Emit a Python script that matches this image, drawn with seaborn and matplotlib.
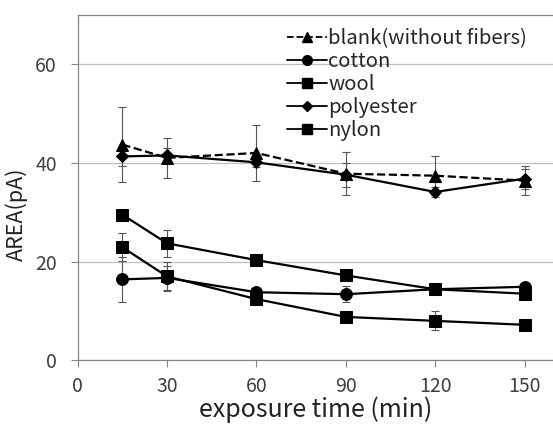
import numpy as np
import pandas as pd
import matplotlib
matplotlib.use('Agg')
import matplotlib.pyplot as plt
import seaborn as sns
from matplotlib.lines import Line2D

# exposure time (min)
times = [15, 30, 60, 90, 120, 150]

blank = [43.7, 41.0, 42.0, 37.8, 37.4, 36.4]
blank_err = [7.6, 4.1, 5.7, 4.3, 3.9, 3.0]
cotton = [16.4, 16.7, 13.8, 13.4, 14.4, 14.9]
cotton_err = [4.6, 2.5, 0.8, 1.6, 0.8, 0.6]
wool = [29.5, 23.7, 20.3, 17.2, 14.4, 13.5]
wool_err = [0.8, 2.7, 0.9, 0.8, 0.6, 0.6]
polyester = [41.3, 41.5, 40.1, 37.6, 34.1, 36.8]
polyester_err = [2.0, 1.5, 1.0, 2.4, 1.0, 2.0]
nylon = [22.9, 17.0, 12.4, 8.8, 8.0, 7.2]
nylon_err = [2.8, 2.9, 0.6, 0.8, 1.9, 0.6]

labels = ['blank(without fibers)', 'cotton', 'wool', 'polyester', 'nylon']

sns.set_style('white')
plt.rcParams['font.family'] = ['Noto Sans CJK JP', 'DejaVu Sans']

fig = plt.figure(figsize=(5.53, 4.28), dpi=100)
ax = fig.add_axes([0.1405, 0.158, 0.862, 0.8077])

series = [
    (blank, blank_err, '^', '--', 9),
    (cotton, cotton_err, 'o', '-', 8.5),
    (wool, wool_err, 's', '-', 9),
    (polyester, polyester_err, 'D', '-', 6.5),
    (nylon, nylon_err, 's', '-', 9),
]

for vals, err, mk, ls, ms in series:
    ax.errorbar(times, vals, yerr=err, fmt='none', ecolor='#555555',
                elinewidth=0.8, capsize=3, capthick=0.8, zorder=2)

for (vals, err, mk, ls, ms), lab in zip(series, labels):
    df = pd.DataFrame({'time': times, 'area': vals})
    sns.lineplot(data=df, x='time', y='area', ax=ax, color='black',
                 linestyle=ls, linewidth=1.6, marker=mk, markersize=ms,
                 markeredgecolor='black', markerfacecolor='black', zorder=3)

ax.set_xlim(0, 160)
ax.set_ylim(0, 70)
ax.set_xticks([0, 30, 60, 90, 120, 150])
ax.set_yticks([0, 20, 40, 60])
ax.yaxis.grid(True, color='#bfbfbf', linewidth=0.9)
ax.set_axisbelow(True)
for s in ax.spines.values():
    s.set_color('#868686')
    s.set_linewidth(0.9)
ax.spines['right'].set_visible(False)
ax.tick_params(axis='both', direction='out', length=5, width=0.8, color='#868686',
               labelsize=14, labelcolor='#404040', left=True, bottom=True)
ax.tick_params(axis='x', pad=6)
ax.tick_params(axis='y', pad=10)

ax.set_xlabel('exposure time (min)', fontsize=18, color='#222222', labelpad=0)
ax.set_ylabel('AREA(pA)', fontsize=15.5, color='#222222')
ax.yaxis.set_label_coords(-0.104, 0.423)

handles = [
    Line2D([], [], color='black', linestyle='--', linewidth=1.3, marker='^', markersize=7),
    Line2D([], [], color='black', linestyle='-', linewidth=1.3, marker='o', markersize=7),
    Line2D([], [], color='black', linestyle='-', linewidth=1.3, marker='s', markersize=7),
    Line2D([], [], color='black', linestyle='-', linewidth=1.3, marker='D', markersize=5),
    Line2D([], [], color='black', linestyle='-', linewidth=1.3, marker='s', markersize=7),
]
ax.legend(handles, labels, loc='upper left', bbox_to_anchor=(0.519, 0.935),
          bbox_transform=fig.transFigure, frameon=False, fontsize=14.6,
          handlelength=1.97, handletextpad=0.05, labelspacing=0.1, borderpad=0,
          borderaxespad=0)

plt.savefig('out.png', dpi=100)
